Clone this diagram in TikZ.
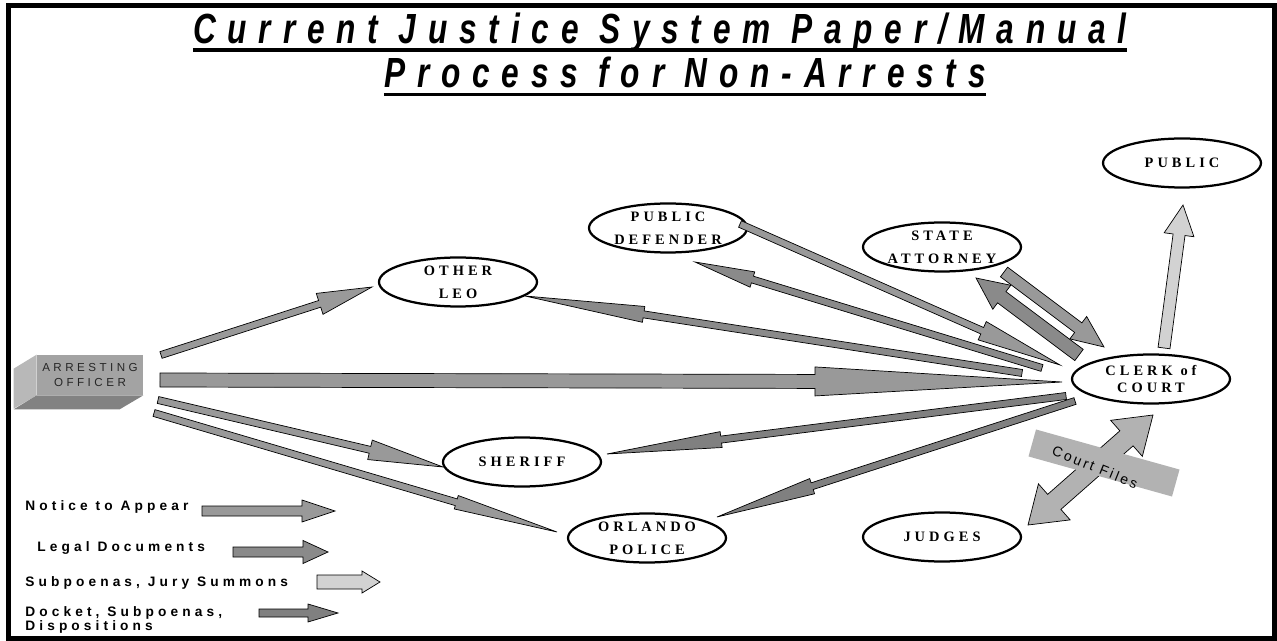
\documentclass[tikz,border=0pt]{standalone}
\usepackage{fontspec}
\setmainfont{Liberation Serif}
\setsansfont{Liberation Sans}
\newfontfamily\headfont[FakeStretch=0.75,LetterSpace=28]{Liberation Sans}
\newfontfamily\agencyfont[LetterSpace=28]{Liberation Serif}
\newfontfamily\keyfont[LetterSpace=30]{Liberation Sans}
\newfontfamily\officerfont[LetterSpace=30]{Liberation Sans}
\newfontfamily\filesfont[LetterSpace=18]{Liberation Sans}
\usetikzlibrary{shapes,arrows,positioning,calc}

\definecolor{notice}{HTML}{999999}
\definecolor{legal}{HTML}{8A8A8A}
\definecolor{summons}{HTML}{D2D2D2}
\definecolor{docket}{HTML}{808080}
\definecolor{files}{HTML}{B2B2B2}
\definecolor{boxfront}{HTML}{A3A3A3}
\definecolor{boxside}{HTML}{B8B8B8}
\definecolor{boxbottom}{HTML}{828282}

\tikzstyle{agency} = [draw, ellipse, line width=0.045cm, fill=white, minimum width=3.16cm, minimum height=0.98cm, inner sep=0pt, align=center, font=\agencyfont\bfseries\fontsize{8.2}{13}\selectfont]
\tikzstyle{officer} = [fill=boxfront, minimum width=2.12cm, minimum height=0.8cm, inner sep=0pt, align=center, text=black!85, font=\officerfont\fontsize{6.6}{8}\selectfont]
\tikzstyle{key} = [anchor=west, inner sep=0pt, align=left, font=\keyfont\bfseries\fontsize{7.8}{8}\selectfont]
\tikzstyle{heading} = [inner sep=0pt, anchor=base, font=\headfont\bfseries\itshape\fontsize{24}{28}\selectfont]

% block arrow: [colour]{from}{to}{shaft half width}{head half width}{head length}, widths in px
\newcommand{\docflow}[6][notice]{%
  \path[draw=black, line width=0.4pt, fill=#1]
    let \p1=($(#3)-(#2)$), \n1={atan2(\y1,\x1)},
        \n2={veclen(\x1,\y1)-#6*0.02cm}, \n3={#4*0.02cm}, \n4={#5*0.02cm} in
    ($(#2)+(\n1+90:\n3)$) -- ($(#2)+(\n1:\n2)+(\n1+90:\n3)$)
    -- ($(#2)+(\n1:\n2)+(\n1+90:\n4)$) -- (#3)
    -- ($(#2)+(\n1:\n2)+(\n1-90:\n4)$) -- ($(#2)+(\n1:\n2)+(\n1-90:\n3)$)
    -- ($(#2)+(\n1-90:\n3)$) -- cycle;}
% same, with a head at both ends
\newcommand{\docflowboth}[6][files]{%
  \path[draw=black, line width=0.4pt, fill=#1]
    let \p1=($(#3)-(#2)$), \n1={atan2(\y1,\x1)},
        \n2={veclen(\x1,\y1)-#6*0.02cm}, \n3={#4*0.02cm}, \n4={#5*0.02cm}, \n5={#6*0.02cm} in
    (#2) -- ($(#2)+(\n1:\n5)+(\n1+90:\n4)$) -- ($(#2)+(\n1:\n5)+(\n1+90:\n3)$)
    -- ($(#2)+(\n1:\n2)+(\n1+90:\n3)$) -- ($(#2)+(\n1:\n2)+(\n1+90:\n4)$) -- (#3)
    -- ($(#2)+(\n1:\n2)+(\n1-90:\n4)$) -- ($(#2)+(\n1:\n2)+(\n1-90:\n3)$)
    -- ($(#2)+(\n1:\n5)+(\n1-90:\n3)$) -- ($(#2)+(\n1:\n5)+(\n1-90:\n4)$) -- cycle;}

\begin{document}
\begin{tikzpicture}[x=0.02cm, y=-0.02cm, line join=miter]
    \useasboundingbox (0,0) rectangle (1277,641);
    \draw[line width=0.1cm] (8.5,5.5) rectangle (1274.5,638.5);

    % Title
    \node[heading] (t1) at (660,44) {Current Justice System Paper/Manual};
    \node[heading] (t2) at (685,88) {Process for Non-Arrests};
    \draw[line width=0.07cm] ([yshift=-0.12cm]t1.base west) -- ([yshift=-0.12cm]t1.base east);
    \draw[line width=0.07cm] ([yshift=-0.13cm]t2.base west) -- ([yshift=-0.13cm]t2.base east);

    % Offices
    \node[agency] (leo) at (458,282) {OTHER\\LEO};
    \node[agency] (pd) at (668,228) {PUBLIC\\DEFENDER};
    \node[agency] (sa) at (942,247) {STATE\\ATTORNEY};
    \node[agency] (pub) at (1182,163) {PUBLIC};
    \node[agency, font=\agencyfont\bfseries\fontsize{8.2}{9.6}\selectfont] (clerk) at (1151,379) {CLERK of\\COURT};
    \node[agency] (sheriff) at (522,462) {SHERIFF};
    \node[agency] (op) at (647,538) {ORLANDO\\POLICE};
    \node[agency] (judges) at (942,537) {JUDGES};

    % Arresting officer box
    \node[officer] (ao) at (90,375) {ARRESTING\\OFFICER};
    \fill[boxside] (ao.north west) -- ++(-23,14) -- ++(0,40) -- (ao.south west) -- cycle;
    \fill[boxbottom] (ao.south west) -- ++(-23,14) -- ++(106,0) -- (ao.south east) -- cycle;

    % Arrow ends
    \coordinate (ao-leo) at (161,355);
    \coordinate (leo-in) at (372,287);
    \coordinate (ao-clerk) at (160,380);
    \coordinate (clerk-in) at (1062,382);
    \coordinate (ao-sheriff) at (158,400);
    \coordinate (sheriff-in) at (443,467);
    \coordinate (ao-op) at (154,413);
    \coordinate (op-in) at (557,532);
    \coordinate (clerk-leo) at (1022,373);
    \coordinate (leo-out) at (525,296);
    \coordinate (clerk-pd) at (1042,368);
    \coordinate (pd-out) at (695,262);
    \coordinate (pd-clerk) at (740,224);
    \coordinate (clerk-in2) at (1060,365);
    \coordinate (sa-clerk) at (1004,272);
    \coordinate (clerk-in3) at (1104,347);
    \coordinate (clerk-sa) at (1079,355);
    \coordinate (sa-out) at (976,278);
    \coordinate (clerk-sheriff) at (1066,396);
    \coordinate (sheriff-out) at (607,454);
    \coordinate (clerk-op) at (1075,401);
    \coordinate (op-out) at (717,517);
    \coordinate (clerk-pub) at (1164,348);
    \coordinate (pub-in) at (1183,205);
    \coordinate (judges-files) at (1028,525);
    \coordinate (clerk-files) at (1153,415);

    % Connections
    \docflow[notice]{ao-leo}{leo-in}{3.5}{11}{55}
    \docflow[notice]{ao-clerk}{clerk-in}{7}{14.5}{247}
    \docflow[notice]{ao-sheriff}{sheriff-in}{3.5}{10}{75}
    \docflow[notice]{ao-op}{op-in}{3.5}{7}{105}
    \docflow[legal]{clerk-leo}{leo-out}{3.5}{8}{120}
    \docflow[legal]{clerk-pd}{pd-out}{3.5}{8}{60}
    \docflow[notice]{pd-clerk}{clerk-in2}{3.5}{10}{85}
    \docflow[notice]{sa-clerk}{clerk-in3}{6}{14}{32}
    \docflow[legal]{clerk-sa}{sa-out}{7}{15}{32}
    \docflow[docket]{clerk-sheriff}{sheriff-out}{3.5}{8}{115}
    \docflow[docket]{clerk-op}{op-out}{3.5}{8}{100}
    \docflow[summons]{clerk-pub}{pub-in}{6}{15}{30}
    \docflowboth[files]{judges-files}{clerk-files}{10}{24}{35}
    \fill[files, shift={(1104,463)}, rotate=-15.6] (-74.5,-14) rectangle (74.5,14);
    \node[rotate=-22, inner sep=0pt, font=\filesfont\fontsize{8}{9}\selectfont] (files) at (1095,467) {Court Files};

    % Key
    \node[key] (k1) at (25,507) {Notice to Appear};
    \node[key] (k2) at (37,548) {Legal Documents};
    \node[key] (k3) at (25,583) {Subpoenas, Jury Summons};
    \node[key] (k4) at (25,620) {Docket, Subpoenas,\\Dispositions};
    \coordinate (k1-tail) at (202,511);
    \coordinate (k1-tip) at (335,511);
    \coordinate (k2-tail) at (233,552);
    \coordinate (k2-tip) at (328,552);
    \coordinate (k3-tail) at (317,582);
    \coordinate (k3-tip) at (380,582);
    \coordinate (k4-tail) at (259,613);
    \coordinate (k4-tip) at (338,613);
    \docflow[notice]{k1-tail}{k1-tip}{5}{11}{33}
    \docflow[legal]{k2-tail}{k2-tip}{5}{11.5}{25}
    \docflow[summons]{k3-tail}{k3-tip}{7}{11}{18}
    \docflow[docket]{k4-tail}{k4-tip}{4}{9}{30}
\end{tikzpicture}
\end{document}
